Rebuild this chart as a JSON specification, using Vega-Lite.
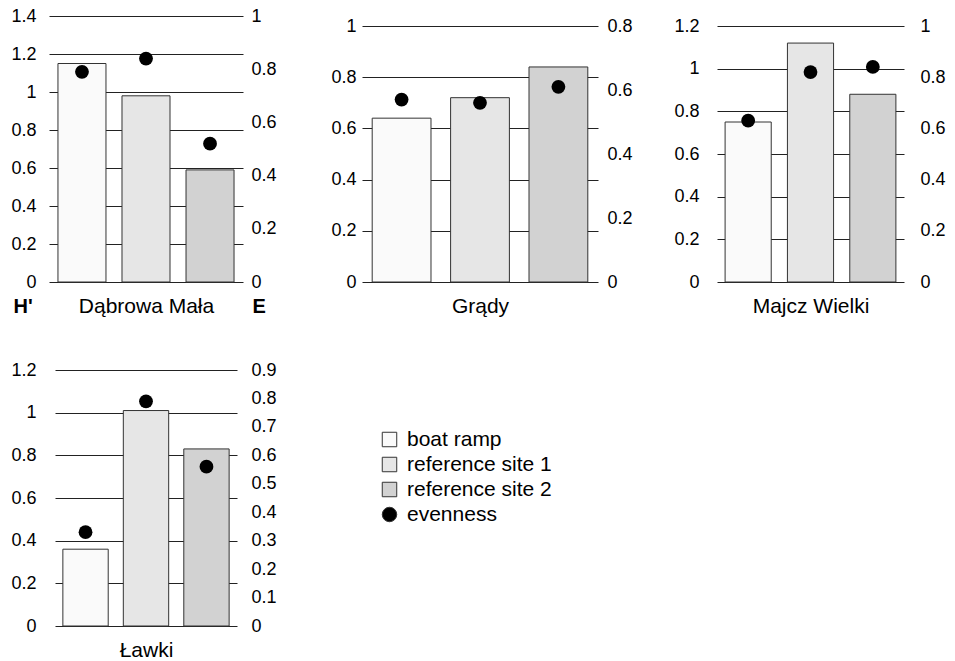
{
  "$schema": "https://vega.github.io/schema/vega-lite/v6.json",
  "padding": {"left": 10, "top": 7, "right": 5, "bottom": 5},
  "background": "white",
  "datasets": {
    "d": [
      {"site": "Dąbrowa Mała", "type": "boat ramp", "H": 1.15, "E": 0.79},
      {"site": "Dąbrowa Mała", "type": "reference site 1", "H": 0.98, "E": 0.84},
      {"site": "Dąbrowa Mała", "type": "reference site 2", "H": 0.59, "E": 0.52},
      {"site": "Grądy", "type": "boat ramp", "H": 0.64, "E": 0.57},
      {"site": "Grądy", "type": "reference site 1", "H": 0.72, "E": 0.56},
      {"site": "Grądy", "type": "reference site 2", "H": 0.84, "E": 0.61},
      {"site": "Majcz Wielki", "type": "boat ramp", "H": 0.75, "E": 0.63},
      {"site": "Majcz Wielki", "type": "reference site 1", "H": 1.12, "E": 0.82},
      {"site": "Majcz Wielki", "type": "reference site 2", "H": 0.88, "E": 0.84},
      {"site": "Ławki", "type": "boat ramp", "H": 0.36, "E": 0.33},
      {"site": "Ławki", "type": "reference site 1", "H": 1.01, "E": 0.79},
      {"site": "Ławki", "type": "reference site 2", "H": 0.83, "E": 0.56}
    ]
  },
  "columns": 3,
  "spacing": {"row": 88, "column": 119},
  "bounds": "flush",
  "center": true,
  "concat": [
    {
      "width": 194, "height": 266,
      "data": {"name": "d"},
      "transform": [{"filter": "datum.site === 'Dąbrowa Mała'"}],
      "layer": [
        {
          "mark": {"type": "bar", "stroke": "#333", "strokeWidth": 1},
          "encoding": {
            "x": {"field": "type", "type": "nominal", "sort": ["boat ramp", "reference site 1", "reference site 2"],
                  "scale": {"paddingInner": 0.25, "paddingOuter": 0.14},
                  "axis": {"title": "Dąbrowa Mała", "labels": false, "ticks": false, "domain": false, "titleBaseline": "alphabetic", "titleY": 30}},
            "y": {"field": "H", "type": "quantitative", "scale": {"domain": [0, 1.4], "nice": false, "zero": true},
                  "axis": {"orient": "left", "values": [0, 0.2, 0.4, 0.6, 0.8, 1, 1.2, 1.4], "format": "~g", "grid": true, "labelPadding": 13,
                           "title": "H'", "titleAngle": 0, "titleAlign": "left", "titleBaseline": "alphabetic", "titleX": -36, "titleY": 296, "titleFontWeight": "bold"}},
            "color": {"field": "type", "type": "nominal",
                      "scale": {"domain": ["boat ramp", "reference site 1", "reference site 2", "evenness"], "range": ["#fafafa", "#e6e6e6", "#d2d2d2", "#000000"]},
                      "legend": {"title": null, "encode": {"symbols": {"update": {"stroke": {"value": "#333"}, "strokeWidth": {"value": 1}}}}}}
          }
        },
        {
          "mark": {"type": "point", "filled": true, "opacity": 1, "size": 190},
          "encoding": {
            "x": {"field": "type", "type": "nominal", "sort": ["boat ramp", "reference site 1", "reference site 2"]},
            "y": {"field": "E", "type": "quantitative", "scale": {"domain": [0, 1], "nice": false},
                  "axis": {"orient": "right", "values": [0, 0.2, 0.4, 0.6, 0.8, 1], "format": "~g", "grid": false, "labelPadding": 8,
                           "title": "E", "titleAngle": 0, "titleAlign": "left", "titleBaseline": "alphabetic", "titleX": 9, "titleY": 296, "titleFontWeight": "bold"}},
            "color": {"datum": "evenness", "type": "nominal"},
            "shape": {"datum": "evenness", "type": "nominal",
                      "scale": {"domain": ["boat ramp", "reference site 1", "reference site 2", "evenness"], "range": ["square", "square", "square", "circle"]},
                      "legend": {"title": null, "encode": {"symbols": {"update": {"stroke": {"value": "#333"}, "strokeWidth": {"value": 1}}}}}}
          }
        }
      ],
      "resolve": {"scale": {"y": "independent"}}
    },
    {
      "width": 236, "height": 266,
      "data": {"name": "d"},
      "transform": [{"filter": "datum.site === 'Grądy'"}],
      "layer": [
        {
          "mark": {"type": "bar", "stroke": "#333", "strokeWidth": 1},
          "encoding": {
            "x": {"field": "type", "type": "nominal", "sort": ["boat ramp", "reference site 1", "reference site 2"],
                  "scale": {"paddingInner": 0.25, "paddingOuter": 0.13},
                  "axis": {"title": "Grądy", "labels": false, "ticks": false, "domain": false, "titleBaseline": "alphabetic", "titleY": 30}},
            "y": {"field": "H", "type": "quantitative", "scale": {"domain": [0, 1.0390625], "nice": false},
                  "axis": {"orient": "left", "values": [0, 0.2, 0.4, 0.6, 0.8, 1], "format": "~g", "grid": true, "labelPadding": 6, "title": null}},
            "color": {"field": "type", "type": "nominal", "legend": {"title": null}}
          }
        },
        {
          "mark": {"type": "point", "filled": true, "opacity": 1, "size": 190},
          "encoding": {
            "x": {"field": "type", "type": "nominal", "sort": ["boat ramp", "reference site 1", "reference site 2"]},
            "y": {"field": "E", "type": "quantitative", "scale": {"domain": [0, 0.83125], "nice": false},
                  "axis": {"orient": "right", "values": [0, 0.2, 0.4, 0.6, 0.8], "format": "~g", "grid": false, "labelPadding": 9, "title": null}},
            "color": {"datum": "evenness", "type": "nominal"},
            "shape": {"datum": "evenness", "type": "nominal", "legend": {"title": null}}
          }
        }
      ],
      "resolve": {"scale": {"y": "independent"}}
    },
    {
      "width": 187, "height": 266,
      "data": {"name": "d"},
      "transform": [{"filter": "datum.site === 'Majcz Wielki'"}],
      "layer": [
        {
          "mark": {"type": "bar", "stroke": "#333", "strokeWidth": 1},
          "encoding": {
            "x": {"field": "type", "type": "nominal", "sort": ["boat ramp", "reference site 1", "reference site 2"],
                  "scale": {"paddingInner": 0.26, "paddingOuter": 0.13},
                  "axis": {"title": "Majcz Wielki", "labels": false, "ticks": false, "domain": false, "titleBaseline": "alphabetic", "titleY": 30}},
            "y": {"field": "H", "type": "quantitative", "scale": {"domain": [0, 1.246875], "nice": false},
                  "axis": {"orient": "left", "values": [0, 0.2, 0.4, 0.6, 0.8, 1, 1.2], "format": "~g", "grid": true, "labelPadding": 18, "title": null}},
            "color": {"field": "type", "type": "nominal", "legend": {"title": null}}
          }
        },
        {
          "mark": {"type": "point", "filled": true, "opacity": 1, "size": 190},
          "encoding": {
            "x": {"field": "type", "type": "nominal", "sort": ["boat ramp", "reference site 1", "reference site 2"]},
            "y": {"field": "E", "type": "quantitative", "scale": {"domain": [0, 1.0390625], "nice": false},
                  "axis": {"orient": "right", "values": [0, 0.2, 0.4, 0.6, 0.8, 1], "format": "~g", "grid": false, "labelPadding": 16, "title": null}},
            "color": {"datum": "evenness", "type": "nominal"},
            "shape": {"datum": "evenness", "type": "nominal", "legend": {"title": null}}
          }
        }
      ],
      "resolve": {"scale": {"y": "independent"}}
    },
    {
      "width": 182, "height": 256,
      "data": {"name": "d"},
      "transform": [{"filter": "datum.site === 'Ławki'"}],
      "layer": [
        {
          "mark": {"type": "bar", "stroke": "#333", "strokeWidth": 1},
          "encoding": {
            "x": {"field": "type", "type": "nominal", "sort": ["boat ramp", "reference site 1", "reference site 2"],
                  "scale": {"paddingInner": 0.25, "paddingOuter": 0.13},
                  "axis": {"title": "Ławki", "labels": false, "ticks": false, "domain": false, "titleBaseline": "alphabetic", "titleY": 30}},
            "y": {"field": "H", "type": "quantitative", "scale": {"domain": [0, 1.2], "nice": false},
                  "axis": {"orient": "left", "values": [0, 0.2, 0.4, 0.6, 0.8, 1, 1.2], "format": "~g", "grid": true, "labelPadding": 19, "title": null}},
            "color": {"field": "type", "type": "nominal", "legend": {"title": null}}
          }
        },
        {
          "mark": {"type": "point", "filled": true, "opacity": 1, "size": 190},
          "encoding": {
            "x": {"field": "type", "type": "nominal", "sort": ["boat ramp", "reference site 1", "reference site 2"]},
            "y": {"field": "E", "type": "quantitative", "scale": {"domain": [0, 0.9], "nice": false},
                  "axis": {"orient": "right", "values": [0, 0.1, 0.2, 0.3, 0.4, 0.5, 0.6, 0.7, 0.8, 0.9], "format": "~g", "grid": false, "labelPadding": 14, "title": null}},
            "color": {"datum": "evenness", "type": "nominal"},
            "shape": {"datum": "evenness", "type": "nominal", "legend": {"title": null}}
          }
        }
      ],
      "resolve": {"scale": {"y": "independent"}}
    }
  ],
  "config": {
    "font": "Liberation Sans",
    "view": {"stroke": null},
    "axis": {
      "labelFont": "Liberation Sans", "labelFontSize": 18, "labelColor": "#000",
      "titleFont": "Liberation Sans", "titleFontSize": 20, "titleColor": "#000", "titleFontWeight": "normal",
      "domain": false, "ticks": false, "gridColor": "#222", "gridWidth": 1, "gridOpacity": 1
    },
    "axisX": {"titleFontSize": 21},
    "legend": {
      "orient": "none", "legendX": 330, "legendY": 413, "padding": 0,
      "labelFont": "Liberation Sans", "labelFontSize": 21, "labelColor": "#000",
      "symbolSize": 210, "symbolStrokeColor": "#333", "symbolStrokeWidth": 1, "symbolOpacity": 1,
      "rowPadding": 3, "labelOffset": 7
    }
  }
}
